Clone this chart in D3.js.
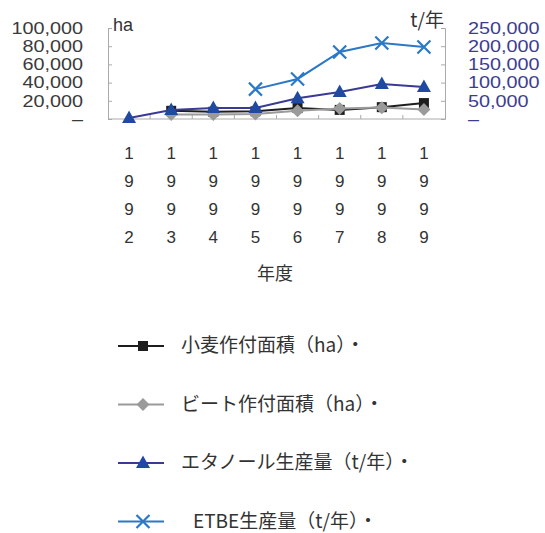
<!DOCTYPE html>
<html>
<head>
<meta charset="utf-8">
<script src="https://cdn.jsdelivr.net/npm/d3@7"></script>
<style>
  html, body { margin: 0; padding: 0; background: #fff; }
  svg { display: block; }
</style>
</head>
<body>
<svg id="chart" width="545" height="533"></svg>
<script>
// Fiscal years on the category axis
const years = ["1992", "1993", "1994", "1995", "1996", "1997", "1998", "1999"];
// Planted area (ha), left axis
const wheatHa = [null, 9000, 8000, 8500, 12000, 10000, 13000, 17500];
const beetHa  = [null, 5000, 5000, 5500, 9000, 11500, 12500, 10500];
// Production (t/year), right axis
const ethanolT = [3000, 25000, 30000, 30000, 57000, 74000, 96000, 88000];
const etbeT    = [null, null, null, 82000, 110000, 184000, 209000, 198000];
// Axis ticks
const leftTicks  = [0, 20000, 40000, 60000, 80000, 100000];
const rightTicks = [0, 50000, 100000, 150000, 200000, 250000];
const legendLabels = ["小麦作付面積（ha）・", "ビート作付面積（ha）・", "エタノール生産量（t/年）・", "ETBE生産量（t/年）・"];

const svg = d3.select("#chart");
const jp = "'Noto Sans CJK JP', 'Noto Sans', sans-serif";
const num = "'Liberation Sans', Arial, sans-serif";

const plot = { left: 108, right: 445, top: 28, bottom: 119 };
const x = d3.scaleBand().domain(years).range([plot.left, plot.right]);
const yL = d3.scaleLinear().domain([0, 100000]).range([plot.bottom, plot.top]);
const yR = d3.scaleLinear().domain([0, 250000]).range([plot.bottom, plot.top]);
const cx = d => x(d) + x.bandwidth() / 2;

const frame = "#aaaaaa";
const fmt = v => v === 0 ? "–" : d3.format(",")(v);

// Tall, tightly stacked value labels: compact font widened horizontally
function styleTickText(sel, color) {
  sel.attr("font-family", num).attr("font-size", 16.5).attr("fill", color)
    .each(function () {
      const w = this.getComputedTextLength();
      d3.select(this).attr("textLength", w * 1.2).attr("lengthAdjust", "spacingAndGlyphs");
    });
}

// Left axis (ha)
const gL = svg.append("g").attr("transform", `translate(${plot.left},0)`)
  .call(d3.axisLeft(yL).tickValues(leftTicks).tickSize(-4).tickPadding(25).tickFormat(fmt));
gL.select(".domain").attr("stroke", frame);
gL.selectAll(".tick line").attr("stroke", frame);
styleTickText(gL.selectAll(".tick text"), "#3a3a3a");

// Right axis (t/year)
const gR = svg.append("g").attr("transform", `translate(${plot.right},0)`)
  .call(d3.axisRight(yR).tickValues(rightTicks).tickSize(-4).tickPadding(23).tickFormat(fmt));
gR.select(".domain").attr("stroke", frame);
gR.selectAll(".tick line").attr("stroke", frame);
styleTickText(gR.selectAll(".tick text"), "#3d3d8f");

// Category axis: ticks between bands, digits stacked vertically
const gX = svg.append("g").attr("transform", `translate(0,${plot.bottom})`);
gX.append("line").attr("x1", plot.left).attr("x2", plot.right).attr("stroke", frame);
gX.selectAll(".sep").data(years.slice(1)).join("line")
  .attr("x1", d => x(d)).attr("x2", d => x(d)).attr("y1", 0).attr("y2", -4).attr("stroke", frame);
years.forEach(yr => {
  const t = gX.append("text").attr("font-family", num).attr("font-size", 17)
    .attr("fill", "#333").attr("text-anchor", "middle");
  yr.split("").forEach((ch, i) => {
    t.append("tspan").attr("x", cx(yr)).attr("y", 40 + i * 28).text(ch);
  });
});

svg.append("text").attr("x", 275).attr("y", 280).attr("text-anchor", "middle")
  .attr("font-family", jp).attr("font-size", 18).attr("fill", "#333").text("年度");
svg.append("text").attr("x", 113).attr("y", 31)
  .attr("font-family", num).attr("font-size", 18).attr("fill", "#333").text("ha");
svg.append("text").attr("x", 444).attr("y", 27).attr("text-anchor", "end")
  .attr("font-family", jp).attr("font-size", 19).attr("fill", "#333").text("t/年");

// Marker shapes
const markers = {
  square: (g, c) => g.append("rect").attr("x", -5).attr("y", -5).attr("width", 10).attr("height", 10).attr("fill", c),
  diamond: (g, c) => g.append("path").attr("d", "M0,-6.5L6.5,0L0,6.5L-6.5,0Z").attr("fill", c),
  triangle: (g, c) => g.append("path").attr("d", "M0,-7.5L7,5L-7,5Z").attr("fill", c),
  cross: (g, c) => g.append("path").attr("d", "M-6.5,-6.5L6.5,6.5M-6.5,6.5L6.5,-6.5").attr("stroke", c).attr("stroke-width", 2.2).attr("fill", "none")
};

const series = [
  { values: wheatHa,  y: yL, line: "#1e1e1e", mark: "#1e1e1e", shape: "square" },
  { values: beetHa,   y: yL, line: "#9a9a9a", mark: "#9a9a9a", shape: "diamond" },
  { values: ethanolT, y: yR, line: "#3a3a96", mark: "#1f4aa0", shape: "triangle" },
  { values: etbeT,    y: yR, line: "#2a78c6", mark: "#2a78c6", shape: "cross" }
];

series.forEach(s => {
  const pts = years.map((yr, i) => ({ yr, v: s.values[i] })).filter(d => d.v != null);
  svg.append("path").datum(pts)
    .attr("fill", "none").attr("stroke", s.line).attr("stroke-width", 2)
    .attr("d", d3.line().x(d => cx(d.yr)).y(d => s.y(d.v)));
  pts.forEach(d => {
    const g = svg.append("g").attr("transform", `translate(${cx(d.yr)},${s.y(d.v)})`);
    markers[s.shape](g, s.mark);
  });
});

// Legend
const legend = svg.append("g");
series.forEach((s, i) => {
  const yy = 346 + i * 58.5;
  const g = legend.append("g").attr("transform", `translate(0,${yy})`);
  g.append("line").attr("x1", 118).attr("x2", 164).attr("stroke", s.line).attr("stroke-width", 2);
  const m = g.append("g").attr("transform", "translate(143,0)");
  markers[s.shape](m, s.mark);
  g.append("text").attr("x", i === 3 ? 193 : 181).attr("y", 6)
    .attr("font-family", jp).attr("font-size", 19).attr("fill", "#333")
    .text(legendLabels[i]);
});
</script>
</body>
</html>
